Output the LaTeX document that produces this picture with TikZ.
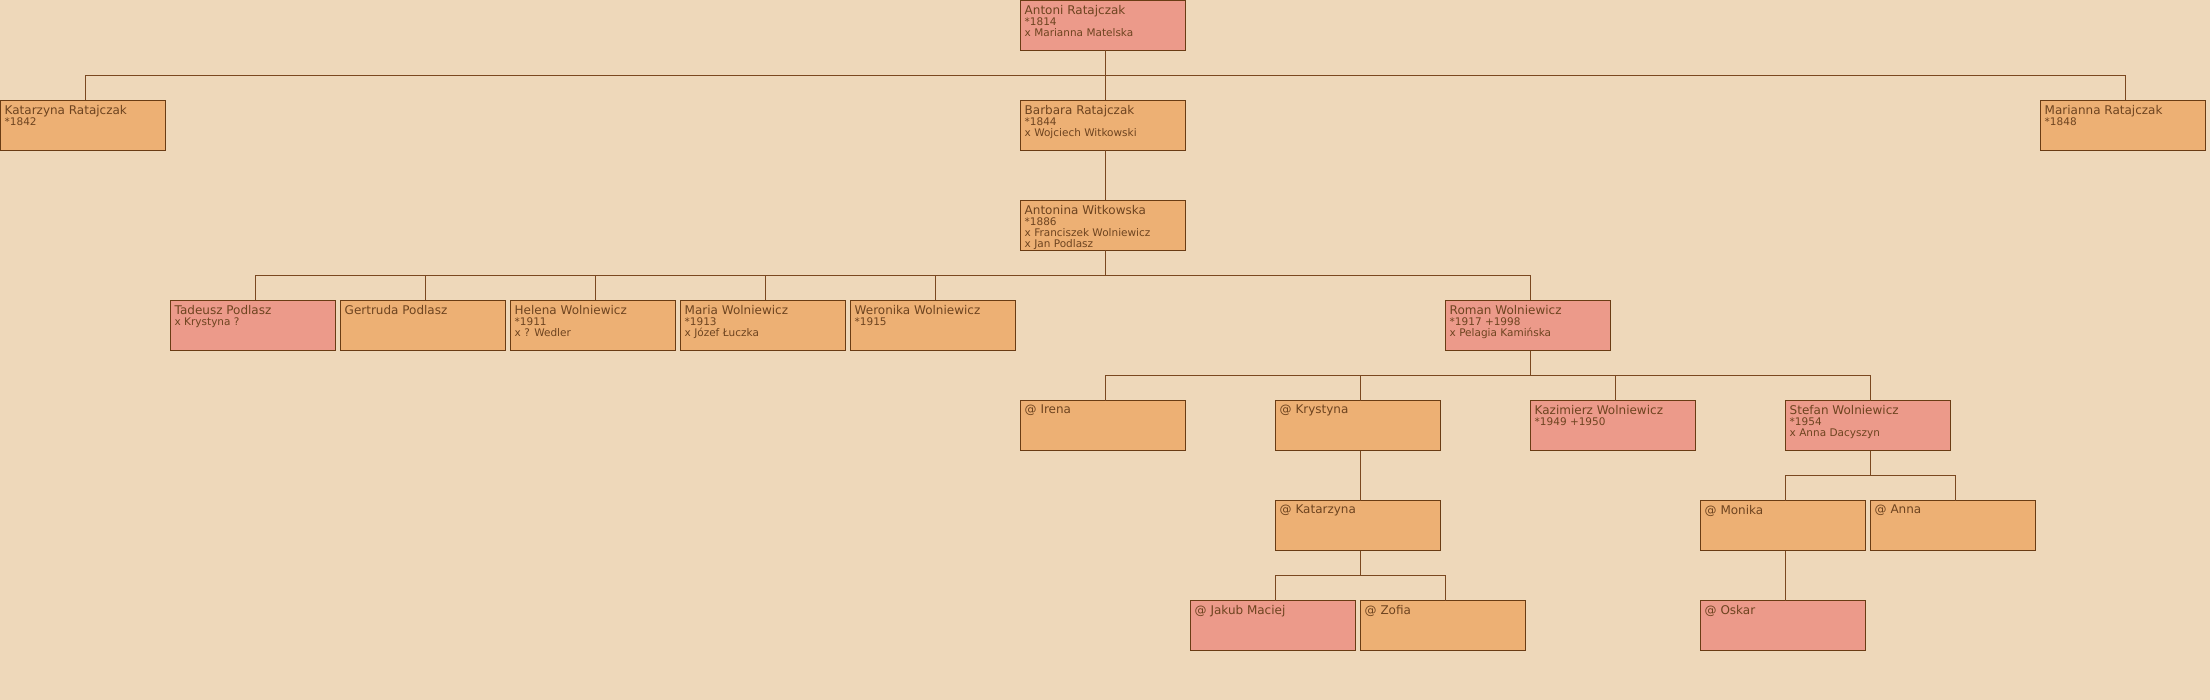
\documentclass[tikz,border=0pt]{standalone}
\usepackage{fontspec}
\setmainfont{DejaVu Sans}
\definecolor{bg}{HTML}{EED8BA}
\definecolor{orangef}{HTML}{EDB074}
\definecolor{pinkf}{HTML}{EC9A8A}
\definecolor{bordc}{HTML}{6A3C14}
\definecolor{linec}{HTML}{7A4820}
\definecolor{textc}{HTML}{6E4420}
\newcommand{\hd}[1]{{\fontsize{12}{11}\selectfont #1}}
\begin{document}
\begin{tikzpicture}[x=1pt,y=-1pt,
  box/.style={draw=bordc, line width=1pt, minimum width=165pt, minimum height=50pt, inner sep=0pt, outer sep=0pt, anchor=north west},
  fem/.style={box, fill=orangef},
  mal/.style={box, fill=pinkf},
  txt/.style={anchor=north west, inner sep=0pt, align=left, text=textc, font=\fontsize{10.5}{11}\selectfont},
  link/.style={draw=linec, line width=1pt}]
\fill[bg] (0,0) rectangle (2210,700);
\useasboundingbox (0,0) rectangle (2210,700);
% boxes
\node[mal] (antoni) at (1020.5,0.5) {};
\node[fem] (katarzyna) at (0.5,100.5) {};
\node[fem] (barbara) at (1020.5,100.5) {};
\node[fem] (marianna) at (2040.5,100.5) {};
\node[fem] (antonina) at (1020.5,200.5) {};
\node[mal] (tadeusz) at (170.5,300.5) {};
\node[fem] (gertruda) at (340.5,300.5) {};
\node[fem] (helena) at (510.5,300.5) {};
\node[fem] (maria) at (680.5,300.5) {};
\node[fem] (weronika) at (850.5,300.5) {};
\node[mal] (roman) at (1445.5,300.5) {};
\node[fem] (irena) at (1020.5,400.5) {};
\node[fem] (krystyna) at (1275.5,400.5) {};
\node[mal] (kazimierz) at (1530.5,400.5) {};
\node[mal] (stefan) at (1785.5,400.5) {};
\node[fem] (katarzynab) at (1275.5,500.5) {};
\node[fem] (monika) at (1700.5,500.5) {};
\node[fem] (anna) at (1870.5,500.5) {};
\node[mal] (jakub) at (1190.5,600.5) {};
\node[fem] (zofia) at (1360.5,600.5) {};
\node[mal] (oskar) at (1700.5,600.5) {};
% texts
\node[txt] (tantoni) at ([xshift=4pt,yshift=-4.5pt]antoni.north west) {\hd{Antoni Ratajczak}\\*1814\\x Marianna Matelska};
\node[txt] (tkatarzyna) at ([xshift=4pt,yshift=-4.5pt]katarzyna.north west) {\hd{Katarzyna Ratajczak}\\*1842};
\node[txt] (tbarbara) at ([xshift=4pt,yshift=-4.5pt]barbara.north west) {\hd{Barbara Ratajczak}\\*1844\\x Wojciech Witkowski};
\node[txt] (tmarianna) at ([xshift=4pt,yshift=-4.5pt]marianna.north west) {\hd{Marianna Ratajczak}\\*1848};
\node[txt] (tantonina) at ([xshift=4pt,yshift=-4.5pt]antonina.north west) {\hd{Antonina Witkowska}\\*1886\\x Franciszek Wolniewicz\\x Jan Podlasz};
\node[txt] (ttadeusz) at ([xshift=4pt,yshift=-4.5pt]tadeusz.north west) {\hd{Tadeusz Podlasz}\\x Krystyna ?};
\node[txt] (tgertruda) at ([xshift=4pt,yshift=-4.5pt]gertruda.north west) {\hd{Gertruda Podlasz}};
\node[txt] (thelena) at ([xshift=4pt,yshift=-4.5pt]helena.north west) {\hd{Helena Wolniewicz}\\*1911\\x ? Wedler};
\node[txt] (tmaria) at ([xshift=4pt,yshift=-4.5pt]maria.north west) {\hd{Maria Wolniewicz}\\*1913\\x Józef Łuczka};
\node[txt] (tweronika) at ([xshift=4pt,yshift=-4.5pt]weronika.north west) {\hd{Weronika Wolniewicz}\\*1915};
\node[txt] (troman) at ([xshift=4pt,yshift=-4.5pt]roman.north west) {\hd{Roman Wolniewicz}\\*1917 +1998\\x Pelagia Kamińska};
\node[txt] (tirena) at ([xshift=4pt,yshift=-4.5pt]irena.north west) {\hd{@ Irena}};
\node[txt] (tkrystyna) at ([xshift=4pt,yshift=-4.5pt]krystyna.north west) {\hd{@ Krystyna}};
\node[txt] (tkazimierz) at ([xshift=4pt,yshift=-4.5pt]kazimierz.north west) {\hd{Kazimierz Wolniewicz}\\*1949 +1950};
\node[txt] (tstefan) at ([xshift=4pt,yshift=-4.5pt]stefan.north west) {\hd{Stefan Wolniewicz}\\*1954\\x Anna Dacyszyn};
\node[txt] (tkatarzynab) at ([xshift=4pt,yshift=-4.5pt]katarzynab.north west) {\hd{@ Katarzyna}};
\node[txt] (tmonika) at ([xshift=4pt,yshift=-4.5pt]monika.north west) {\hd{@ Monika}};
\node[txt] (tanna) at ([xshift=4pt,yshift=-4.5pt]anna.north west) {\hd{@ Anna}};
\node[txt] (tjakub) at ([xshift=4pt,yshift=-4.5pt]jakub.north west) {\hd{@ Jakub Maciej}};
\node[txt] (tzofia) at ([xshift=4pt,yshift=-4.5pt]zofia.north west) {\hd{@ Zofia}};
\node[txt] (toskar) at ([xshift=4pt,yshift=-4.5pt]oskar.north west) {\hd{@ Oskar}};
% connectors
\foreach \p/\c in {antoni/katarzyna, antoni/barbara, antoni/marianna,
  barbara/antonina,
  antonina/tadeusz, antonina/gertruda, antonina/helena, antonina/maria, antonina/weronika, antonina/roman,
  roman/irena, roman/krystyna, roman/kazimierz, roman/stefan,
  krystyna/katarzynab, katarzynab/jakub, katarzynab/zofia,
  stefan/monika, stefan/anna, monika/oskar}
  \draw[link] ([xshift=2pt]\p.south) -- ++(0,25) -| ([xshift=2pt]\c.north);
\end{tikzpicture}
\end{document}
